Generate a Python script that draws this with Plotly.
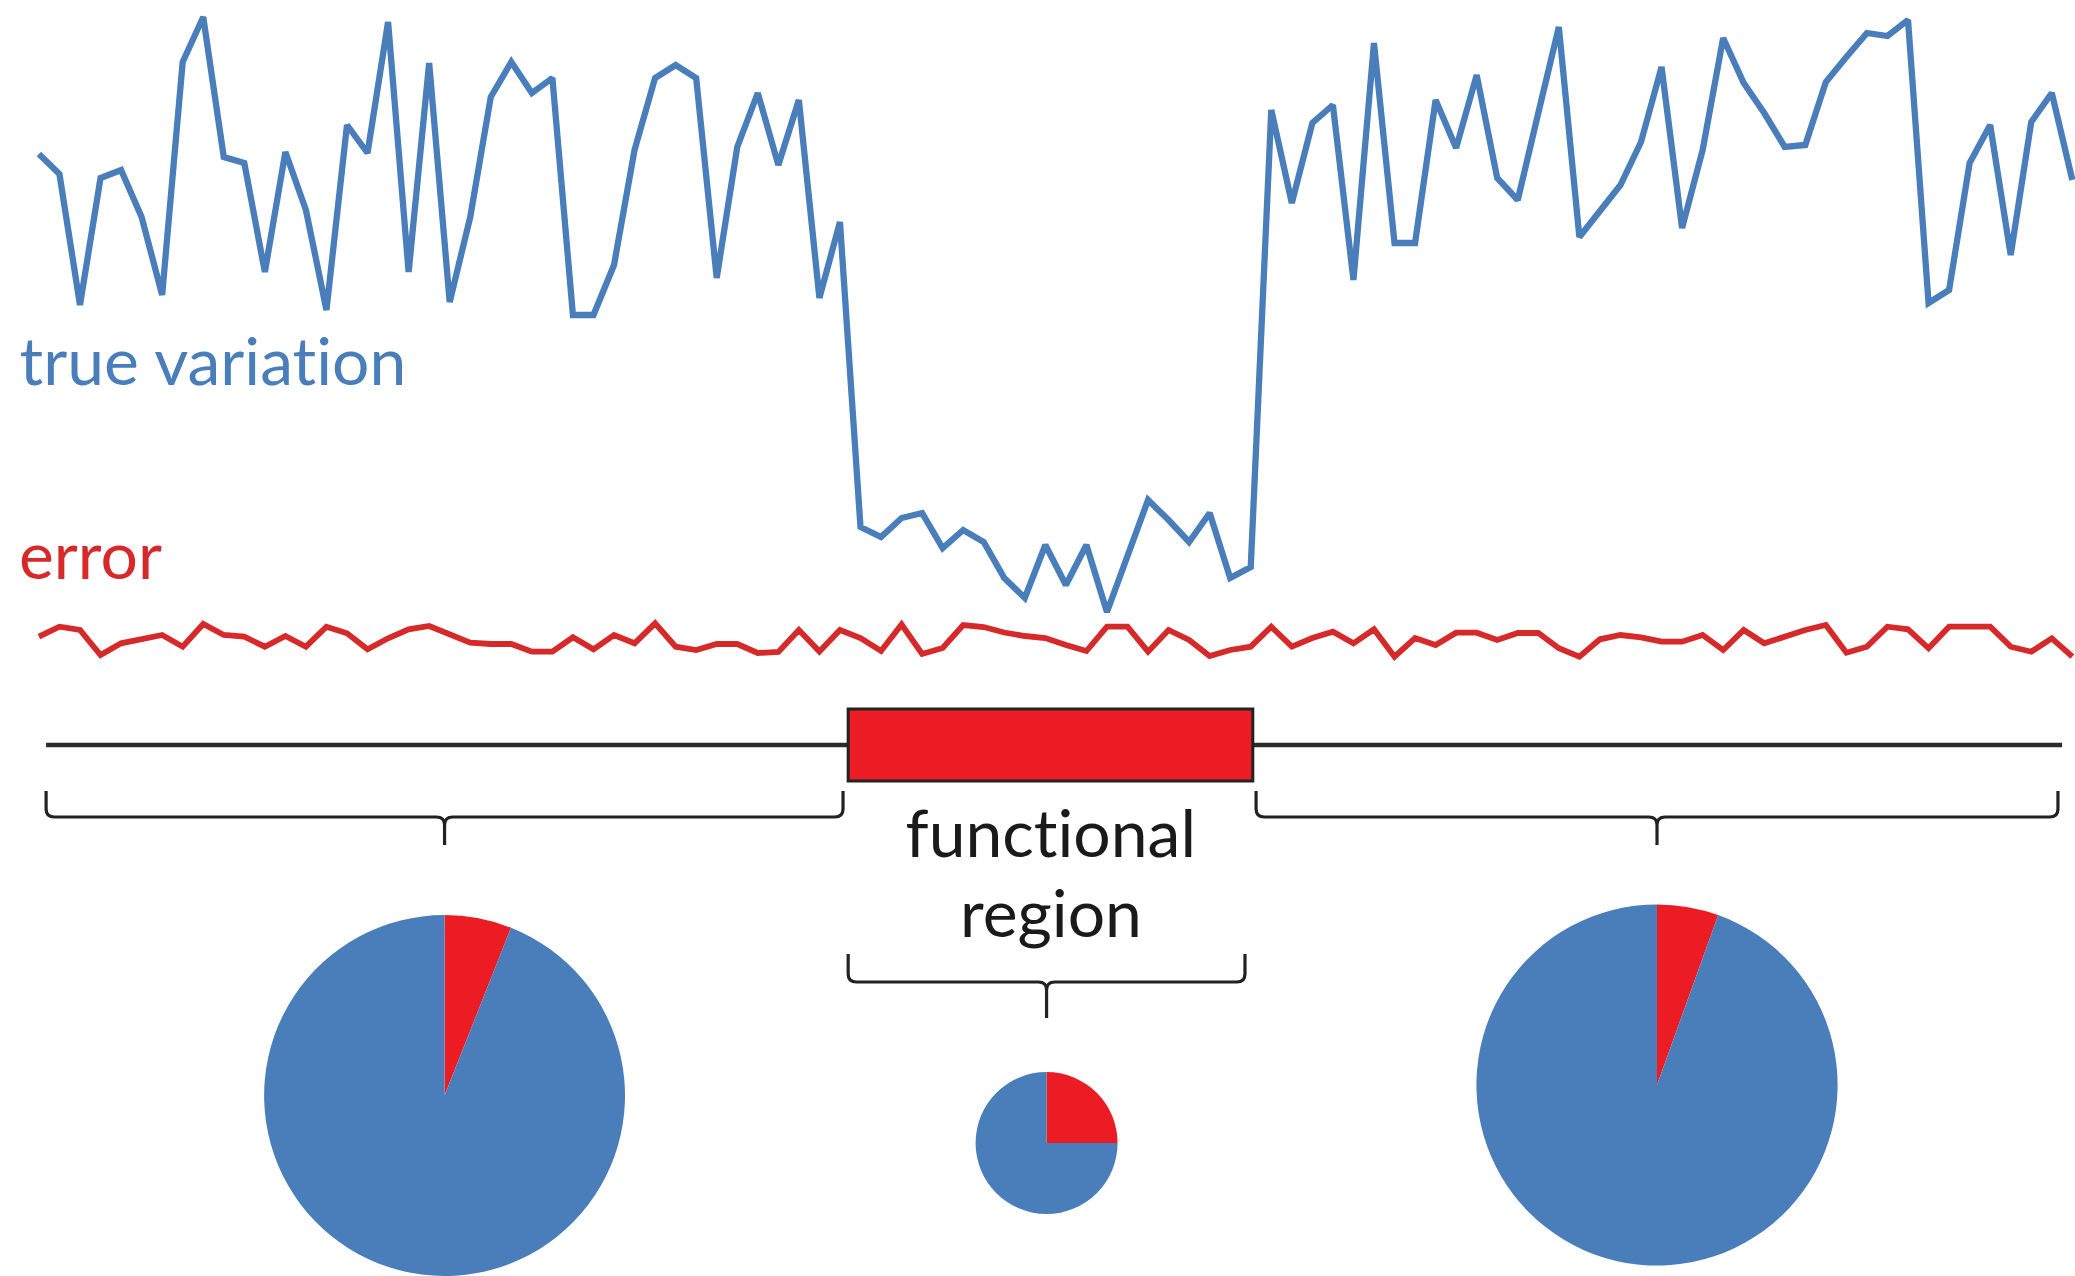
import plotly.graph_objects as go

# ---------------- data ----------------
true_variation = [
    54.6, 52.6, 39.5, 52.2, 53.0, 48.3, 40.5, 63.8, 68.3, 54.3,
    53.7, 42.8, 54.8, 49.0, 39.0, 57.5, 54.7, 67.8, 42.8, 63.7,
    39.8, 48.3, 60.3, 63.8, 60.7, 62.2, 38.5, 38.5, 43.5, 55.0,
    62.2, 63.5, 62.2, 42.2, 55.3, 60.7, 53.5, 60.0, 40.2, 47.8,
    17.3, 16.3, 18.2, 18.7, 15.2, 17.0, 15.8, 12.2, 10.2, 15.5,
    11.5, 15.5, 8.8, 14.4, 20.0, 18.0, 15.8, 18.7, 12.2, 13.3,
    59.0, 49.7, 57.7, 59.5, 42.0, 65.7, 45.7, 45.7, 60.0, 55.2,
    62.5, 52.2, 50.0, 58.7, 67.3, 46.3, 49.0, 51.5, 55.8, 63.3,
    47.2, 55.0, 66.2, 61.7, 58.7, 55.3, 55.5, 61.8, 64.3, 66.7,
    66.4, 68.0, 39.7, 41.0, 53.7, 57.5, 44.5, 57.8, 60.7, 52.0,
]

error = [
    6.33, 7.33, 7.0, 4.5, 5.67, 6.07, 6.5, 5.33, 7.6, 6.5,
    6.33, 5.33, 6.4, 5.33, 7.33, 6.67, 5.07, 6.17, 7.07, 7.4,
    6.5, 5.73, 5.6, 5.6, 4.83, 4.83, 6.27, 5.07, 6.5, 5.67,
    7.67, 5.33, 5.0, 5.6, 5.6, 4.7, 4.8, 7.0, 4.85, 7.0,
    6.2, 4.9, 7.55, 4.6, 5.2, 7.5, 7.3, 6.75, 6.4, 6.2,
    5.5, 4.9, 7.33, 7.33, 4.83, 7.0, 6.0, 4.4, 5.0, 5.33,
    7.33, 5.33, 6.2, 6.83, 5.67, 7.07, 4.33, 6.2, 5.5, 6.73,
    6.73, 6.0, 6.7, 6.7, 5.17, 4.33, 6.07, 6.5, 6.27, 5.83,
    5.83, 6.5, 5.0, 7.0, 5.67, 6.33, 7.0, 7.5, 4.73, 5.33,
    7.33, 7.07, 5.17, 7.33, 7.33, 7.33, 5.33, 4.83, 6.17, 4.33,
]

positions = list(range(len(true_variation)))

track = [0.35, 98.5]                 # extent of the sequence track
functional_region = [39.4, 59.1]     # red box
bracket_regions = [[0.35, 39.15], [39.4, 58.72], [59.26, 98.3]]

pie_labels = ["error", "true variation"]
pie_left = [6, 94]
pie_middle = [25, 75]
pie_right = [5.5, 94.5]

# ---------------- styling / layout ----------------
W, H = 2075, 1276
XR = [-1.894, 99.13]
YR = [-57.6, 70]
BLUE = "#4a7ebb"
RED_LINE = "#d62a2a"
RED_FILL = "#ec1c24"
DARK = "#222222"
FONT = "Lato"
FS = 66

fig = go.Figure()
fig.add_trace(go.Scatter(x=positions, y=true_variation, mode="lines",
                         line=dict(color=BLUE, width=6.3), showlegend=False,
                         hoverinfo="skip"))
fig.add_trace(go.Scatter(x=positions, y=error, mode="lines",
                         line=dict(color=RED_LINE, width=5.8), showlegend=False,
                         hoverinfo="skip"))


def to_paper_x(v):
    return (v - XR[0]) / (XR[1] - XR[0])


shapes = []
# sequence track line
shapes.append(dict(type="line", xref="x", yref="y", x0=track[0], x1=track[1],
                   y0=-4.5, y1=-4.5, line=dict(color="#2a2a2a", width=4.5),
                   layer="below"))
# functional region box
shapes.append(dict(type="rect", xref="x", yref="y",
                   x0=functional_region[0], x1=functional_region[1],
                   y0=-0.9, y1=-8.1, fillcolor=RED_FILL,
                   line=dict(color=DARK, width=3)))


def bracket(xa, xb, ytop, ybar, ytick):
    dx, dy = 0.4, 0.8
    xm = (xa + xb) / 2
    p = (f"M {xa},{ytop} L {xa},{ybar + dy} Q {xa},{ybar} {xa + dx},{ybar} "
         f"L {xm - dx},{ybar} Q {xm},{ybar} {xm},{ybar - dy} L {xm},{ytick} "
         f"M {xm},{ybar - dy} Q {xm},{ybar} {xm + dx},{ybar} "
         f"L {xb - dx},{ybar} Q {xb},{ybar} {xb},{ybar + dy} L {xb},{ytop}")
    return dict(type="path", xref="x", yref="y", path=p,
                line=dict(color=DARK, width=3.2))


shapes.append(bracket(bracket_regions[0][0], bracket_regions[0][1], -9.1, -11.7, -14.5))
shapes.append(bracket(bracket_regions[2][0], bracket_regions[2][1], -9.1, -11.7, -14.5))
shapes.append(bracket(bracket_regions[1][0], bracket_regions[1][1], -25.4, -28.2, -31.8))

# pies, centred under the bracket ticks
pie_specs = [
    (pie_left, sum(bracket_regions[0]) / 2, 1095.7, 180.6),
    (pie_middle, sum(bracket_regions[1]) / 2, 1143.0, 71.0),
    (pie_right, sum(bracket_regions[2]) / 2, 1085.0, 180.6),
]
for vals, xc, yc_px, r_px in pie_specs:
    cx = to_paper_x(xc)
    rx = r_px / W
    y0 = max(0.0, 1 - (yc_px + r_px) / H)
    y1 = 1 - (yc_px - r_px) / H
    fig.add_trace(go.Pie(labels=pie_labels, values=vals, sort=False,
                         direction="clockwise", rotation=0,
                         marker=dict(colors=[RED_FILL, BLUE], line=dict(width=0)),
                         textinfo="none", hoverinfo="skip", showlegend=False,
                         domain=dict(x=[cx - rx, cx + rx], y=[y0, y1])))

text_x_mid = to_paper_x(sum(bracket_regions[1]) / 2) + 4 / W
annotations = [
    dict(text="true variation", x=17 / W, y=1 - 360 / H, xanchor="left", yanchor="middle",
         font=dict(family=FONT, size=FS, color=BLUE)),
    dict(text="error", x=17 / W, y=1 - 553 / H, xanchor="left", yanchor="middle",
         font=dict(family=FONT, size=FS, color=RED_LINE)),
    dict(text="functional", x=text_x_mid, y=1 - 831 / H,
         xanchor="center", yanchor="middle", font=dict(family=FONT, size=FS, color="#1a1a1a")),
    dict(text="region", x=text_x_mid, y=1 - 912 / H,
         xanchor="center", yanchor="middle", font=dict(family=FONT, size=FS, color="#1a1a1a")),
]
for a in annotations:
    a.update(xref="paper", yref="paper", showarrow=False)

fig.update_layout(
    width=W, height=H, margin=dict(l=0, r=0, t=0, b=0),
    paper_bgcolor="white", plot_bgcolor="white",
    xaxis=dict(range=XR, visible=False, fixedrange=True),
    yaxis=dict(range=YR, visible=False, fixedrange=True),
    shapes=shapes, annotations=annotations, showlegend=False,
)

post = (
    "document.body.style.margin='0';"
    "document.body.style.overflow='hidden';"
    "var s=document.createElement('style');"
    "s.textContent='text{font-variant-ligatures:none !important;"
    "font-feature-settings:\"liga\" 0, \"clig\" 0 !important;}';"
    "document.head.appendChild(s);"
)
fig.write_html("out.html", config={"displayModeBar": False}, post_script=post)
